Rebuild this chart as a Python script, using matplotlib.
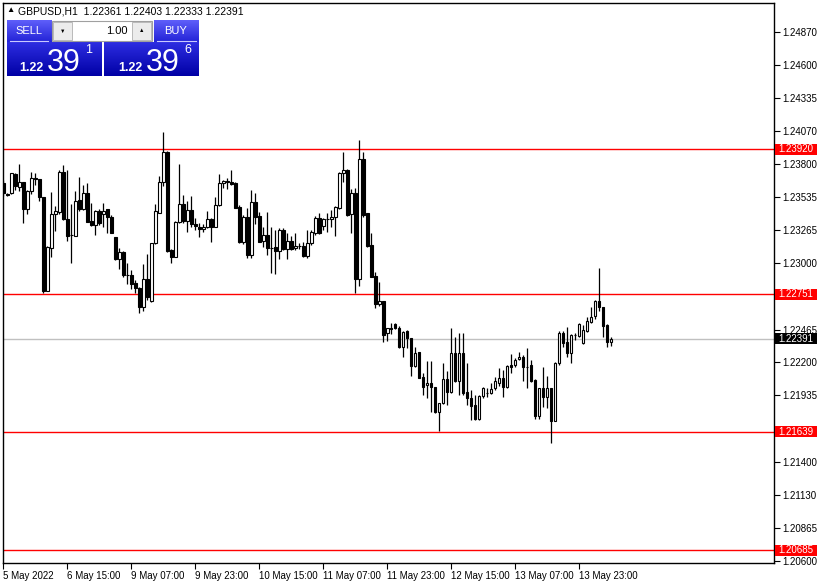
import matplotlib
matplotlib.use("Agg")
import matplotlib.pyplot as plt
import matplotlib.transforms as mtransforms
from matplotlib.patches import Rectangle
import numpy as np

plt.rcParams['font.family'] = ['Liberation Sans', 'DejaVu Sans']

# GBPUSD H1 candles
opens = [1.23650, 1.23559, 1.23564, 1.23718, 1.23618, 1.23653, 1.23435, 1.23580, 1.23688, 1.23677,
         1.23532, 1.22779, 1.23126, 1.23395, 1.23416, 1.23739, 1.23357, 1.23228, 1.23223, 1.23508,
         1.23435, 1.23567, 1.23338, 1.23306, 1.23422, 1.23395, 1.23435, 1.23376, 1.23209, 1.23032,
         1.23091, 1.22905, 1.22902, 1.22838, 1.22798, 1.22644, 1.22870, 1.22698, 1.23161, 1.23408,
         1.23656, 1.23898, 1.23107, 1.23053, 1.23336, 1.23476, 1.23344, 1.23430, 1.23317, 1.23295,
         1.23274, 1.23295, 1.23354, 1.23295, 1.23470, 1.23645, 1.23661, 1.23659, 1.23645, 1.23454,
         1.23169, 1.23373, 1.23067, 1.23494, 1.23381, 1.23182, 1.23228, 1.23123, 1.23134, 1.23101,
         1.23268, 1.23118, 1.23180, 1.23120, 1.23139, 1.23139, 1.23061, 1.23166, 1.23241, 1.23362,
         1.23303, 1.23357, 1.23354, 1.23370, 1.23443, 1.23726, 1.23753, 1.23395, 1.23564, 1.22870,
         1.23840, 1.23403, 1.23147, 1.22897, 1.22671, 1.22695, 1.22434, 1.22475, 1.22510, 1.22475,
         1.22327, 1.22453, 1.22394, 1.22173, 1.22281, 1.22079, 1.22015, 1.22031, 1.21999, 1.21796,
         1.21869, 1.22063, 1.21958, 1.22273, 1.22052, 1.22273, 1.21958, 1.21910, 1.21856, 1.21743,
         1.21929, 1.21951, 1.21951, 1.21991, 1.22031, 1.22076, 1.22004, 1.22176, 1.22176, 1.22225,
         1.22246, 1.22165, 1.22179, 1.22058, 1.21770, 1.21991, 1.21918, 1.21991, 1.21730, 1.22192,
         1.22440, 1.22367, 1.22273, 1.22418, 1.22416, 1.22354, 1.22456, 1.22529, 1.22574, 1.22695,
         1.22644, 1.22502, 1.22361]
highs = [1.23672, 1.23564, 1.23731, 1.23726, 1.23801, 1.23659, 1.23591, 1.23734, 1.23731, 1.23683,
         1.23537, 1.23139, 1.23578, 1.23462, 1.23753, 1.23796, 1.23753, 1.23478, 1.23586, 1.23693,
         1.23629, 1.23650, 1.23489, 1.23430, 1.23435, 1.23484, 1.23435, 1.23389, 1.23215, 1.23120,
         1.23096, 1.22999, 1.22945, 1.22865, 1.22811, 1.22994, 1.23072, 1.23161, 1.23478, 1.23704,
         1.24059, 1.23903, 1.23112, 1.23341, 1.23798, 1.23551, 1.23502, 1.23543, 1.23362, 1.23322,
         1.23317, 1.23422, 1.23362, 1.23537, 1.23718, 1.23672, 1.23686, 1.23753, 1.23659, 1.23470,
         1.23389, 1.23443, 1.23588, 1.23564, 1.23411, 1.23295, 1.23411, 1.23290, 1.23268, 1.23282,
         1.23282, 1.23241, 1.23223, 1.23241, 1.23161, 1.23174, 1.23268, 1.23268, 1.23384, 1.23403,
         1.23362, 1.23403, 1.23430, 1.23462, 1.23740, 1.23895, 1.23758, 1.23596, 1.23605, 1.23995,
         1.23895, 1.23408, 1.23241, 1.22932, 1.22851, 1.22695, 1.22480, 1.22515, 1.22521, 1.22494,
         1.22456, 1.22461, 1.22400, 1.22327, 1.22286, 1.22112, 1.22211, 1.22211, 1.22004, 1.21869,
         1.22197, 1.22130, 1.22480, 1.22402, 1.22434, 1.22439, 1.22192, 1.21977, 1.21937, 1.21937,
         1.22004, 1.21991, 1.22031, 1.22085, 1.22152, 1.22138, 1.22179, 1.22267, 1.22233, 1.22286,
         1.22260, 1.22313, 1.22219, 1.22063, 1.21996, 1.22160, 1.22090, 1.21996, 1.22206, 1.22453,
         1.22456, 1.22488, 1.22429, 1.22434, 1.22515, 1.22502, 1.22563, 1.22649, 1.22703, 1.22962,
         1.22650, 1.22507, 1.22403]
lows = [1.23543, 1.23543, 1.23559, 1.23591, 1.23586, 1.23327, 1.23400, 1.23559, 1.23629, 1.23500,
        1.22757, 1.22773, 1.23048, 1.23258, 1.23397, 1.23349, 1.23182, 1.23005, 1.23217, 1.23424,
        1.23430, 1.23333, 1.23301, 1.23226, 1.23311, 1.23295, 1.23247, 1.23241, 1.23026, 1.22954,
        1.22892, 1.22835, 1.22795, 1.22757, 1.22601, 1.22617, 1.22703, 1.22687, 1.23156, 1.23403,
        1.23623, 1.23094, 1.23005, 1.23048, 1.23322, 1.23322, 1.23255, 1.23295, 1.23268, 1.23215,
        1.23255, 1.23282, 1.23169, 1.23290, 1.23465, 1.23605, 1.23599, 1.23632, 1.23443, 1.23164,
        1.23158, 1.23045, 1.23040, 1.23319, 1.23169, 1.23134, 1.23067, 1.22924, 1.22911, 1.23032,
        1.23107, 1.23032, 1.23107, 1.23107, 1.23112, 1.23053, 1.23040, 1.23147, 1.23228, 1.23236,
        1.23268, 1.23255, 1.23295, 1.23220, 1.23435, 1.23659, 1.23381, 1.23241, 1.22763, 1.22816,
        1.23376, 1.23134, 1.22886, 1.22636, 1.22655, 1.22367, 1.22372, 1.22426, 1.22470, 1.22319,
        1.22246, 1.22319, 1.22093, 1.22165, 1.22071, 1.21937, 1.21915, 1.21802, 1.21789, 1.21649,
        1.21861, 1.21856, 1.21953, 1.22044, 1.21937, 1.21937, 1.21856, 1.21735, 1.21735, 1.21735,
        1.21910, 1.21923, 1.21945, 1.21977, 1.22010, 1.21923, 1.21996, 1.22112, 1.22165, 1.22219,
        1.22052, 1.21991, 1.22044, 1.21740, 1.21740, 1.21843, 1.21829, 1.21552, 1.21730, 1.22179,
        1.22327, 1.22246, 1.22198, 1.22381, 1.22408, 1.22349, 1.22445, 1.22515, 1.22547, 1.22617,
        1.22407, 1.22327, 1.22333]
closes = [1.23564, 1.23553, 1.23726, 1.23623, 1.23656, 1.23435, 1.23583, 1.23685, 1.23677, 1.23532,
          1.22779, 1.23128, 1.23395, 1.23419, 1.23736, 1.23354, 1.23223, 1.23226, 1.23502, 1.23435,
          1.23564, 1.23336, 1.23306, 1.23422, 1.23322, 1.23422, 1.23376, 1.23247, 1.23032, 1.23088,
          1.22902, 1.22902, 1.22830, 1.22798, 1.22650, 1.22870, 1.22730, 1.23161, 1.23422, 1.23656,
          1.23898, 1.23102, 1.23053, 1.23330, 1.23476, 1.23341, 1.23430, 1.23314, 1.23303, 1.23274,
          1.23293, 1.23354, 1.23295, 1.23470, 1.23645, 1.23664, 1.23653, 1.23640, 1.23449, 1.23169,
          1.23373, 1.23067, 1.23494, 1.23376, 1.23174, 1.23228, 1.23120, 1.23120, 1.23101, 1.23268,
          1.23115, 1.23180, 1.23112, 1.23139, 1.23137, 1.23061, 1.23166, 1.23249, 1.23362, 1.23247,
          1.23354, 1.23354, 1.23370, 1.23451, 1.23726, 1.23750, 1.23389, 1.23564, 1.22870, 1.23840,
          1.23389, 1.23142, 1.22892, 1.22671, 1.22695, 1.22421, 1.22475, 1.22472, 1.22475, 1.22327,
          1.22443, 1.22394, 1.22173, 1.22273, 1.22076, 1.22004, 1.22033, 1.22004, 1.21796, 1.21869,
          1.22063, 1.21958, 1.22273, 1.22052, 1.22273, 1.21956, 1.21910, 1.21851, 1.21743, 1.21929,
          1.21996, 1.21953, 1.21985, 1.22050, 1.22076, 1.22004, 1.22171, 1.22165, 1.22219, 1.22241,
          1.22160, 1.22160, 1.22052, 1.21770, 1.21991, 1.21918, 1.21991, 1.21730, 1.22192, 1.22434,
          1.22359, 1.22273, 1.22421, 1.22424, 1.22507, 1.22461, 1.22534, 1.22563, 1.22695, 1.22644,
          1.22496, 1.22361, 1.22391]

time_ticks = [0, 16, 32, 48, 64, 80, 96, 112, 128, 144]
time_labels = ["5 May 2022", "6 May 15:00", "9 May 07:00", "9 May 23:00", "10 May 15:00",
               "11 May 07:00", "11 May 23:00", "12 May 15:00", "13 May 07:00", "13 May 23:00"]
price_ticks = [1.24870, 1.24600, 1.24335, 1.24070, 1.23800, 1.23535, 1.23265, 1.23000,
               1.22465, 1.22200, 1.21935, 1.21400, 1.21130, 1.20865, 1.20600]
levels = [1.23920, 1.22751, 1.21639, 1.20685]
bid = 1.22391

fig = plt.figure(figsize=(8.2, 5.84), dpi=100)
ax = fig.add_axes([3 / 820, 1 - 563 / 584, 771 / 820, 560 / 584])

o = np.array(opens); h = np.array(highs); l = np.array(lows); c = np.array(closes)
x = np.arange(len(o))
up = c >= o
ax.vlines(x, l, h, color='black', lw=0.9, zorder=2)
ax.bar(x, np.maximum(np.abs(c - o), 0.00001), bottom=np.minimum(o, c), width=0.6,
       color=np.where(up, 'white', 'black'), edgecolor='black', linewidth=0.8, zorder=3)

for lv in levels:
    ax.axhline(lv, color='#ff0000', lw=1, zorder=1)
ax.axhline(bid, color='#c0c0c0', lw=1, zorder=1)

ax.set_xlim(-0.1, 192.7)
ax.set_ylim(1.20581, 1.25100)

ax.set_xticks(time_ticks)
ax.set_xticklabels(time_labels, fontsize=7)
for lbl in ax.get_xticklabels():
    lbl.set_ha('left')
ax.tick_params(axis='x', direction='out', length=4, pad=2, width=0.8)

ax.yaxis.tick_right()
ax.set_yticks(price_ticks)
ax.set_yticklabels([f"{p:.5f}" for p in price_ticks], fontsize=7)
ax.tick_params(axis='y', direction='out', length=4, pad=2, width=0.8)
for s in ax.spines.values():
    s.set_linewidth(1)

# coloured price labels on the scale (11 px tall, 42 px wide boxes)
lab_tr = mtransforms.blended_transform_factory(ax.transAxes, ax.transData)
px_price = (1.25100 - 1.20581) / 560
box_h = 11 * px_price
box_w = 42 / 771


def scale_label(value, colour):
    ax.add_patch(Rectangle((1.0013, value - box_h / 2), box_w, box_h, transform=lab_tr,
                           fc=colour, ec='none', clip_on=False, zorder=6))
    ax.text(1.0013 + box_w / 2, value, f"{value:.5f}", transform=lab_tr, fontsize=7,
            color='white', va='center', ha='center', clip_on=False, zorder=7)


for lv in levels:
    scale_label(lv, '#ff0000')
scale_label(bid, 'black')

# header and one-click trading panel, in pixel units
ov = fig.add_axes([0, 0, 1, 1], zorder=10)
ov.patch.set_alpha(0)
ov.axis('off')

fig.text(6 / 820, 1 - 11 / 584, "\u25B2", fontsize=6, va='center', ha='left')
fig.text(18 / 820, 1 - 11 / 584, "GBPUSD,H1  1.22361 1.22403 1.22333 1.22391",
         fontsize=7.5, va='center', ha='left')


def grad(x0, y0, x1, y1, top, bot):
    g = np.linspace(0, 1, 64)[:, None, None]
    img = (1 - g) * np.array(top) / 255 + g * np.array(bot) / 255
    ov.imshow(img, extent=(x0, x1, y1, y0), aspect='auto', interpolation='bilinear', zorder=1)


grad(7, 20, 52, 42, (95, 95, 250), (35, 35, 215))
grad(154, 20, 199, 42, (95, 95, 250), (35, 35, 215))
grad(7, 42, 102, 76, (45, 45, 225), (0, 0, 165))
grad(104, 42, 199, 76, (45, 45, 225), (0, 0, 165))
ov.plot([10, 48], [41, 41], color='#c8c8ff', lw=0.8, zorder=2)
ov.plot([157, 196], [41, 41], color='#c8c8ff', lw=0.8, zorder=2)

ov.add_patch(Rectangle((52.5, 20.5), 100, 20, fc='white', ec='#a0a0a0', lw=0.8, zorder=2))
ov.add_patch(Rectangle((53.5, 21.5), 19, 18, fc='#ececec', ec='#b0b0b0', lw=0.6, zorder=3))
ov.add_patch(Rectangle((132.5, 21.5), 19, 18, fc='#ececec', ec='#b0b0b0', lw=0.6, zorder=3))
ov.text(63, 31, "\u25BC", fontsize=4, ha='center', va='center', zorder=4)
ov.text(142, 30, "\u25B2", fontsize=4, ha='center', va='center', zorder=4)
ov.text(128, 30.5, "1.00", fontsize=8, ha='right', va='center', zorder=4)

ov.text(29, 30.5, "SELL", fontsize=8, color='white', ha='center', va='center', zorder=4)
ov.text(176, 30.5, "BUY", fontsize=8, color='white', ha='center', va='center', zorder=4)

ov.text(44, 71, "1.22", fontsize=9, color='white', fontweight='bold', ha='right', va='baseline', zorder=4)
ov.text(47, 71, "39", fontsize=22, color='white', ha='left', va='baseline', zorder=4)
ov.text(85, 53, "1", fontsize=9, color='white', ha='left', va='baseline', zorder=4)
ov.text(143, 71, "1.22", fontsize=9, color='white', fontweight='bold', ha='right', va='baseline', zorder=4)
ov.text(146, 71, "39", fontsize=22, color='white', ha='left', va='baseline', zorder=4)
ov.text(184, 53, "6", fontsize=9, color='white', ha='left', va='baseline', zorder=4)

ov.set_xlim(0, 820)
ov.set_ylim(584, 0)

fig.savefig("out.png", dpi=100)
